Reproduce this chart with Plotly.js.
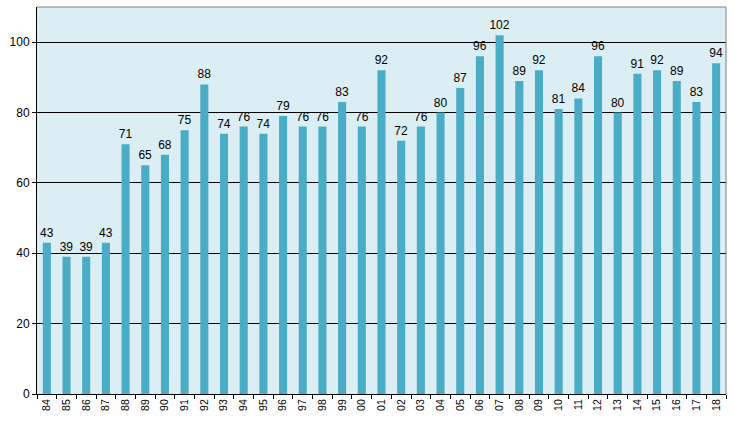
<!DOCTYPE html>
<html>
<head>
<meta charset="utf-8">
<script src="https://cdn.plot.ly/plotly-3.0.1.min.js"></script>
<style>html,body{margin:0;padding:0;background:#fff;}#chart{width:734px;height:423px;}</style>
</head>
<body>
<div id="chart"></div>
<script>
var years = ["84","85","86","87","88","89","90","91","92","93","94","95","96","97","98","99","00","01","02","03","04","05","06","07","08","09","10","11","12","13","14","15","16","17","18"];
var values = [43,39,39,43,71,65,68,75,88,74,76,74,79,76,76,83,76,92,72,76,80,87,96,102,89,92,81,84,96,80,91,92,89,83,94];
var yTicks = [0,20,40,60,80,100];

var trace = {
  type: 'bar',
  x: years,
  y: values,
  text: values.map(String),
  textposition: 'outside',
  constraintext: 'none',
  cliponaxis: false,
  textfont: {family: 'Liberation Sans, Arial, sans-serif', size: 12, color: '#000'},
  outsidetextfont: {family: 'Liberation Sans, Arial, sans-serif', size: 12, color: '#000'},
  marker: {color: '#4bacc6', line: {width: 0}},
  hoverinfo: 'none'
};

var layout = {
  width: 734, height: 423,
  margin: {l: 37, r: 8, t: 7, b: 29, pad: 0},
  paper_bgcolor: '#ffffff',
  plot_bgcolor: '#dbeef4',
  bargap: 0.59,
  showlegend: false,
  font: {family: 'Liberation Sans, Arial, sans-serif', size: 12, color: '#000'},
  xaxis: {
    type: 'category',
    tickangle: -90,
    tickson: 'boundaries',
    ticks: 'outside', ticklen: 4, tickcolor: '#000', tickwidth: 1,
    showline: true, linecolor: '#000', linewidth: 1,
    showgrid: false,
    tickfont: {size: 10.5},
    fixedrange: true
  },
  yaxis: {
    range: [0, 110],
    tickvals: yTicks,
    ticktext: yTicks.map(String),
    ticks: 'outside', ticklen: 4, tickcolor: '#000', tickwidth: 1,
    showline: true, linecolor: '#000', linewidth: 1,
    showgrid: true, gridcolor: '#000', gridwidth: 1,
    zeroline: false,
    tickfont: {size: 12},
    fixedrange: true
  },
  shapes: [
    {type: 'line', xref: 'paper', yref: 'paper', x0: 0, x1: 1, y0: 1, y1: 1, line: {color: '#808080', width: 1}},
    {type: 'line', xref: 'paper', yref: 'paper', x0: 1, x1: 1, y0: 0, y1: 1, line: {color: '#808080', width: 1}}
  ]
};

Plotly.newPlot('chart', [trace], layout, {displayModeBar: false, staticPlot: true});
</script>
</body>
</html>
